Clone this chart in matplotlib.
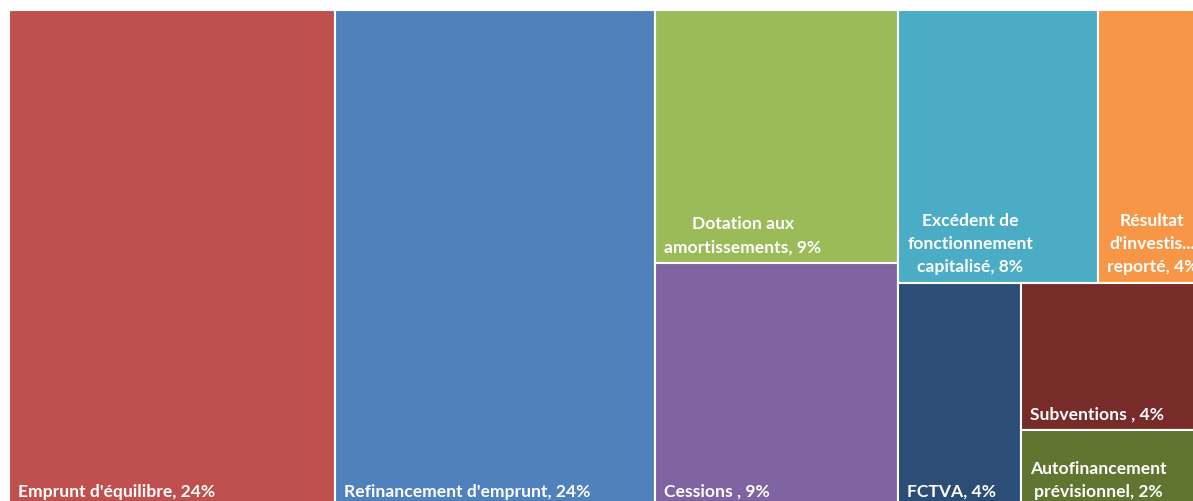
import matplotlib.pyplot as plt
from matplotlib.patches import Rectangle

# percent of the total (the rest of the treemap lies outside the cropped view)
names = [
    "Emprunt d'équilibre",
    "Refinancement d'emprunt",
    "Dotation aux\namortissements",
    "Cessions ",
    "Excédent de\nfonctionnement\ncapitalisé",
    "Résultat\nd'investis...\nreporté",
    "FCTVA",
    "Subventions ",
    "Autofinancement\nprévisionnel",
]
values = [24.4, 23.9, 9.23, 8.93, 8.17, 4.12, 4.15, 3.92, 2.06]
colors = ["#C0504D", "#4F81BD", "#9BBB59", "#8064A2", "#4BACC6",
          "#F79646", "#2C4D75", "#772C2A", "#5F7530"]
TOTAL = 100.0

# nesting of the tiles: columns, then rows, then columns...
tree = [0, 1, [2, 3], [[4, 5], [6, [7, 8]]]]

FULL_W, FULL_H = 2.687, 1.0   # aspect of the whole (uncropped) treemap


def leaf_sum(node):
    if isinstance(node, int):
        return values[node]
    return sum(leaf_sum(c) for c in node)


def layout(node, x, y_top, w, h, horizontal, out):
    if isinstance(node, int):
        out[node] = (x, y_top - h, w, h)
        return
    tot = leaf_sum(node)
    for child in node:
        frac = leaf_sum(child) / tot
        if horizontal:
            cw = w * frac
            layout(child, x, y_top, cw, h, False, out)
            x += cw
        else:
            ch = h * frac
            layout(child, x, y_top, w, ch, True, out)
            y_top -= ch


rects = {}
layout(tree, 0.0, FULL_H, FULL_W * leaf_sum(tree) / TOTAL, FULL_H, True, rects)

fig = plt.figure(figsize=(11.93, 5.02), dpi=100)
# axes reach past the right/bottom edge: the picture is a crop of a larger chart
ax = fig.add_axes([9 / 1193, -7 / 502, 1338 / 1193, 498 / 502])
ax.set_xlim(0, FULL_W)
ax.set_ylim(0, FULL_H)
ax.axis("off")

for i, (x, y, w, h) in rects.items():
    ax.add_patch(Rectangle((x, y), w, h, facecolor=colors[i],
                           edgecolor="white", linewidth=1.5))
    label = f"{names[i]}, {round(values[i])}%"
    ax.annotate(label, xy=(x, y), xytext=(6.5, 6.5), textcoords="offset points",
                ha="left", va="bottom", multialignment="center",
                color="white", fontsize=12.6, fontweight="bold",
                family="Lato", linespacing=1.55)

fig.savefig("out.png", dpi=100)
